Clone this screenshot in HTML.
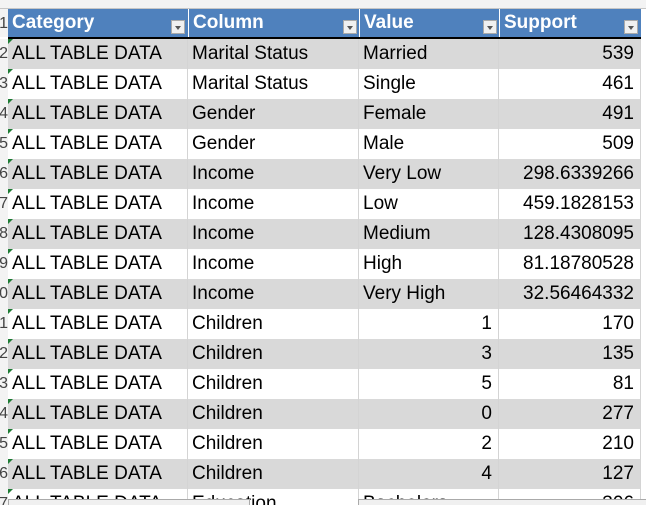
<!DOCTYPE html>
<html><head><meta charset="utf-8">
<style>
html,body{margin:0;width:646px;height:505px;overflow:hidden;background:#fff;font-family:"Liberation Sans",Arial,sans-serif;}
#sheet{position:relative;width:646px;height:505px;overflow:hidden;}
.cell{position:absolute;height:30px;line-height:30px;font-size:19px;color:#000;white-space:nowrap;box-sizing:border-box;border-right:1px solid #d4d4d4;padding:0 4px;overflow:hidden}
.num{text-align:right;padding-right:6px}
.hdr{position:absolute;top:9px;height:28px;line-height:28px;background:#4f81bd;color:#fff;font-weight:bold;font-size:19px;box-sizing:border-box;padding:0 4px}
.dd{position:absolute;top:10px;width:14px;height:14px;background:#f0f0f0;border:1px solid #aaa;box-sizing:border-box}
.dd:after{content:"";position:absolute;left:3px;top:5px;border-left:3px solid transparent;border-right:3px solid transparent;border-top:4px solid #555}
.rn{position:absolute;left:0;width:8px;height:30px;line-height:30px;font-size:16px;color:#444;overflow:hidden;text-align:right;background:#f3f3f3;direction:rtl}
</style></head><body>
<div id="sheet">
<div style="position:absolute;left:0;top:0;width:646px;height:8px;background:#f3f3f3;border-bottom:1px solid #c6c6c6"></div>
<div class="rn" style="top:9px;height:28px">1</div>
<div class="hdr" style="left:8px;width:180px">Category</div>
<div class="hdr" style="left:188px;width:171px;border-left:1px solid #fff">Column</div>
<div class="hdr" style="left:359px;width:140px;border-left:1px solid #fff">Value</div>
<div class="hdr" style="left:499px;width:142px;border-left:1px solid #fff">Support</div>
<div class="dd" style="left:171px;top:20px"></div>
<div class="dd" style="left:343px;top:20px"></div>
<div class="dd" style="left:483px;top:20px"></div>
<div class="dd" style="left:624px;top:20px"></div>
<div style="position:absolute;left:8px;top:37px;width:633px;height:2px;background:#000"></div>
</div>
<script>
const categories=["ALL TABLE DATA","ALL TABLE DATA","ALL TABLE DATA","ALL TABLE DATA","ALL TABLE DATA","ALL TABLE DATA","ALL TABLE DATA","ALL TABLE DATA","ALL TABLE DATA","ALL TABLE DATA","ALL TABLE DATA","ALL TABLE DATA","ALL TABLE DATA","ALL TABLE DATA","ALL TABLE DATA","ALL TABLE DATA"];
const columns=["Marital Status","Marital Status","Gender","Gender","Income","Income","Income","Income","Income","Children","Children","Children","Children","Children","Children","Education"];
const values=["Married","Single","Female","Male","Very Low","Low","Medium","High","Very High","1","3","5","0","2","4","Bachelors"];
const supports=["539","461","491","509","298.6339266","459.1828153","128.4308095","81.18780528","32.56464332","170","135","81","277","210","127","306"];
const sheet=document.getElementById('sheet');
for(let i=0;i<categories.length;i++){
  const top=39+i*30;
  const bg=(i%2===0)?'#d9d9d9':'#fff';
  const rn=document.createElement('div');rn.className='rn';rn.style.top=top+'px';rn.textContent=(i+2);
  
  
  sheet.appendChild(rn);
  const defs=[[8,180,categories[i],false],[188,171,columns[i],false],[359,140,values[i],/^\d+$/.test(values[i])],[499,142,supports[i],true]];
  defs.forEach((d,j)=>{
    const c=document.createElement('div');
    c.className='cell'+(d[3]?' num':'');
    c.style.left=d[0]+'px';c.style.width=d[1]+'px';c.style.top=top+'px';c.style.background=bg;
    c.textContent=d[2];
    
    
    sheet.appendChild(c);
  });
  const tri=document.createElement('div');
  tri.style.cssText='position:absolute;left:8px;top:'+top+'px;width:0;height:0;border-top:5px solid #1e7b34;border-right:5px solid transparent';
  
  
  sheet.appendChild(tri);
}
const b1=document.createElement('div');b1.style.cssText='position:absolute;left:8px;top:499px;width:240px;height:8px;background:#f0f0f0;border:1px solid #aaa';


sheet.appendChild(b1);
const b2=document.createElement('div');b2.style.cssText='position:absolute;left:358px;top:499px;width:290px;height:8px;background:#f0f0f0;border:1px solid #aaa';


sheet.appendChild(b2);
</script>
</body></html>
